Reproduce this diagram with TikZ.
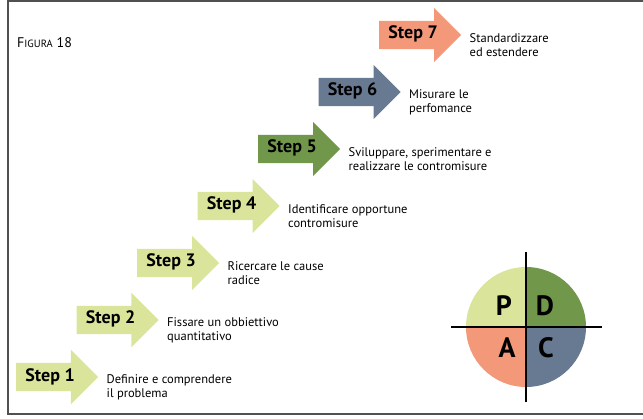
\documentclass[tikz,border=0pt]{standalone}
\usepackage{fontspec}
\setmainfont{PT Sans}
\usetikzlibrary{shapes.arrows}
\usepackage{color}
\definecolor{step_green}{RGB}{218, 229, 155}
\definecolor{dark_green}{RGB}{113, 152, 74}
\definecolor{slate_blue}{RGB}{104, 121, 146}
\definecolor{salmon_red}{RGB}{244, 152, 122}
\definecolor{frame_gray}{RGB}{80, 80, 80}

\begin{document}
\begin{tikzpicture}[x=1pt, y=1pt,
    stepArrow/.style={single arrow, draw=none, anchor=tail, minimum height=82pt, minimum width=0pt,
        text height=11pt, text depth=3pt, inner ysep=7pt, inner xsep=2pt,
        single arrow head extend=13pt, single arrow tip angle=90,
        font=\fontsize{18}{18}\selectfont\bfseries},
    stepText/.style={anchor=west, align=left, inner sep=0pt,
        font=\fontsize{12.5}{14}\selectfont},
    pdcaLetter/.style={inner sep=0pt, font=\fontsize{28}{28}\selectfont\bfseries}]
    \useasboundingbox (0,0) rectangle (643,418);

    % frame
    \draw[frame_gray, line width=2pt] (643,417) -- (8,417) -- (8,4) -- (643,4);
    \node[anchor=west, inner sep=0pt, font=\fontsize{14}{14}\selectfont] (fig) at (17,375) {F{\fontsize{10.5}{10.5}\selectfont IGURA} 18};

    % steps
        \node[stepArrow, fill=step_green] (s1) at (16,41) {Step 1};
        \node[stepArrow, fill=step_green] (s2) at (76.5,98) {Step 2};
        \node[stepArrow, fill=step_green] (s3) at (137,155) {Step 3};
        \node[stepArrow, fill=step_green] (s4) at (197.5,212) {Step 4};
        \node[stepArrow, fill=dark_green] (s5) at (258,269) {Step 5};
        \node[stepArrow, fill=slate_blue] (s6) at (318.5,326) {Step 6};
        \node[stepArrow, fill=salmon_red] (s7) at (379,383) {Step 7};

        \node[stepText] (t1) at ([xshift=8pt, yshift=-10pt]s1.tip) {Definire e comprendere\\il problema};
        \node[stepText] (t2) at ([xshift=8pt, yshift=-10pt]s2.tip) {Fissare un obbiettivo\\quantitativo};
        \node[stepText] (t3) at ([xshift=8pt, yshift=-10pt]s3.tip) {Ricercare le cause\\radice};
        \node[stepText] (t4) at ([xshift=8pt, yshift=-10pt]s4.tip) {Identificare opportune\\contromisure};
        \node[stepText] (t5) at ([xshift=8pt, yshift=-10pt]s5.tip) {Sviluppare, sperimentare e\\realizzare le contromisure};
        \node[stepText] (t6) at ([xshift=8pt, yshift=-10pt]s6.tip) {Misurare le\\perfomance};
        \node[stepText] (t7) at ([xshift=8pt, yshift=-10pt]s7.tip) {Standardizzare\\ed estendere};

    % PDCA
        \coordinate (pdca) at (526,91);
        \fill[step_green] (pdca) -- ++(180:60) arc (180:90:60) -- cycle;
        \fill[dark_green] (pdca) -- ++(90:60) arc (90:0:60) -- cycle;
        \fill[salmon_red] (pdca) -- ++(270:60) arc (270:180:60) -- cycle;
        \fill[slate_blue] (pdca) -- ++(0:60) arc (0:-90:60) -- cycle;
        \draw[black, line width=2pt] ([xshift=-75pt]pdca) -- ([xshift=76pt]pdca);
        \draw[black, line width=2pt] ([yshift=75pt]pdca) -- ([yshift=-75pt]pdca);
        \node[pdcaLetter] (P) at ([xshift=-22pt, yshift=21pt]pdca) {P};
        \node[pdcaLetter] (D) at ([xshift=19pt, yshift=21pt]pdca) {D};
        \node[pdcaLetter] (A) at ([xshift=-19pt, yshift=-21pt]pdca) {A};
        \node[pdcaLetter] (C) at ([xshift=20pt, yshift=-21pt]pdca) {C};

    \end{tikzpicture}
\end{document}
